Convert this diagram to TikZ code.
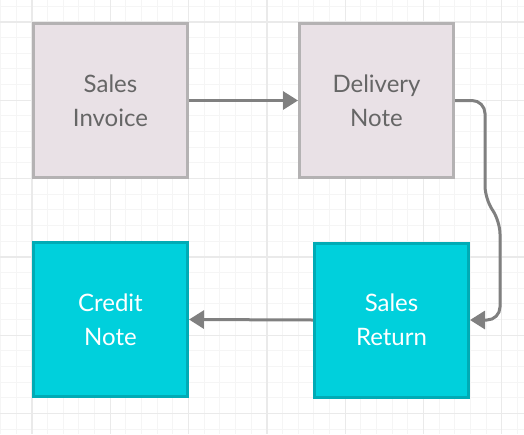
\documentclass[tikz,border=0pt]{standalone}
\usepackage{fontspec}
\setmainfont{Lato}
\usetikzlibrary{arrows.meta}
\definecolor{gridminor}{HTML}{F5F5F5}
\definecolor{gridmajor}{HTML}{EAEAEA}
\definecolor{pinkfill}{HTML}{E9E1E6}
\definecolor{pinkborder}{HTML}{B4B2B3}
\definecolor{cyanfill}{HTML}{00D0DC}
\definecolor{cyanborder}{HTML}{00ABB5}
\definecolor{arrowgray}{HTML}{808080}
\definecolor{textgray}{HTML}{666666}
\tikzset{
  docbox/.style={rectangle, minimum width=154pt, minimum height=154pt, line width=3pt,
    align=center, font=\fontsize{24}{34}\selectfont, inner sep=0pt},
  graybox/.style={docbox, draw=pinkborder, fill=pinkfill, text=textgray},
  tealbox/.style={docbox, draw=cyanborder, fill=cyanfill, text=white},
  flow/.style={draw=arrowgray, line width=3pt, -{Triangle[length=15pt,width=18pt]}},
}
\begin{document}
\begin{tikzpicture}[x=1pt,y=-1pt]
\useasboundingbox (0,0) rectangle (524,434);
\fill[white] (0,0) rectangle (524,434);
% minor grid
\foreach \i in {0,...,34} {
  \draw[gridminor, line width=1pt] ({0.68+15.66*\i},0) -- ({0.68+15.66*\i},434);
}
\foreach \i in {0,...,28} {
  \draw[gridminor, line width=1pt] (0,{6.34+15.66*\i}) -- (524,{6.34+15.66*\i});
}
% major grid
\foreach \i in {0,...,6} {
  \draw[gridmajor, line width=1.2pt] ({32+78.3*\i},0) -- ({32+78.3*\i},434);
}
\foreach \i in {0,...,5} {
  \draw[gridmajor, line width=1.2pt] (0,{22+78.3*\i}) -- (524,{22+78.3*\i});
}
\node[graybox] (si) at (110.5,100.5) {Sales\\Invoice};
\node[graybox] (dn) at (376.5,100.5) {Delivery\\Note};
\node[tealbox] (sr) at (391.5,320) {Sales\\Return};
\node[tealbox] (cn) at (110.5,319.5) {Credit\\Note};
\draw[flow] (si.east) -- (dn.west);
\draw[flow, rounded corners=13pt] (dn.east) -- (485,100.5) -- (485,199) -- (500,221) -- (500,320) -- (sr.east);
\draw[flow] (sr.west) -- (cn.east);
\end{tikzpicture}
\end{document}
